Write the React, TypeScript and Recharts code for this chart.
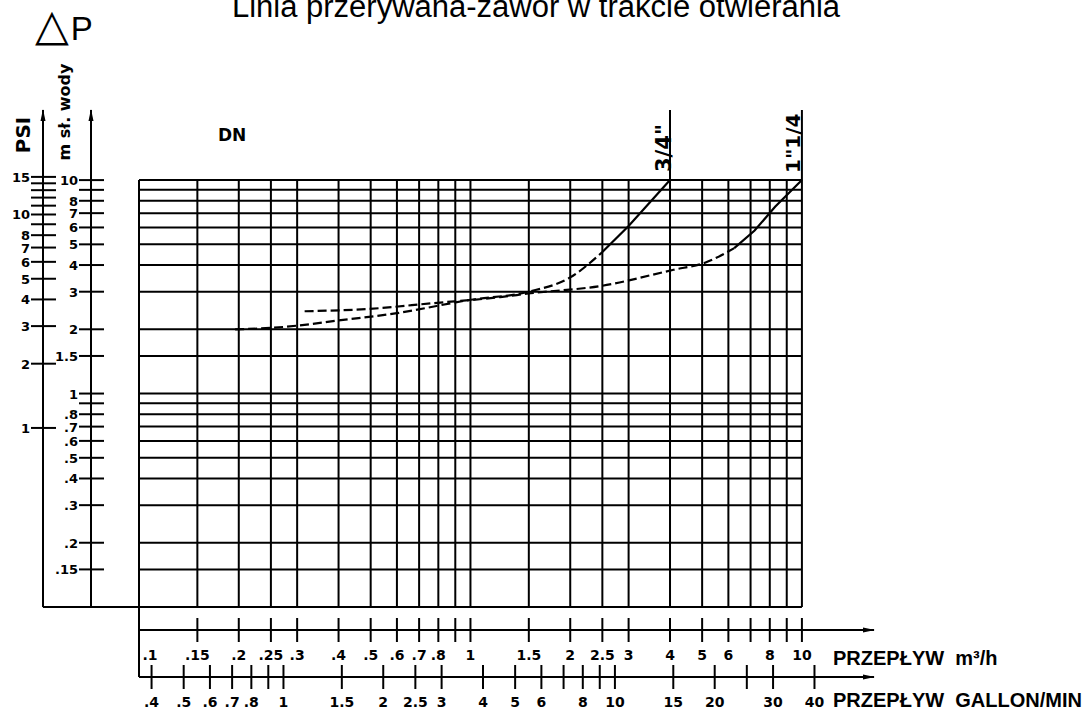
import React from 'react';
import { ComposedChart, Line, XAxis, YAxis, ReferenceLine } from 'recharts';

// ---- axis ticks and labels ----
const flowTicks = [0.1, 0.15, 0.2, 0.25, 0.3, 0.4, 0.5, 0.6, 0.7, 0.8, 0.9, 1, 1.5, 2, 2.5, 3, 4, 5, 6, 7, 8, 9, 10];
const flowLabels = ['.1', '.15', '.2', '.25', '.3', '.4', '.5', '.6', '.7', '.8', '', '1', '1.5', '2', '2.5', '3', '4', '5', '6', '', '8', '', '10'];
const gallonTicks = [0.4, 0.5, 0.6, 0.7, 0.8, 0.9, 1, 1.5, 2, 2.5, 3, 4, 5, 6, 7, 8, 9, 10, 15, 20, 25, 30, 40];
const gallonLabels = ['.4', '.5', '.6', '.7', '.8', '', '1', '1.5', '2', '2.5', '3', '4', '5', '6', '', '8', '', '10', '15', '20', '', '30', '40'];
const headTicks = [10, 9, 8, 7, 6, 5, 4, 3, 2, 1.5, 1, 0.9, 0.8, 0.7, 0.6, 0.5, 0.4, 0.3, 0.2, 0.15];
const headLabels = ['10', '', '8', '7', '6', '5', '4', '3', '2', '1.5', '1', '', '.8', '.7', '.6', '.5', '.4', '.3', '.2', '.15'];
const psiTicks = [15, 14, 13, 12, 11, 10, 9, 8, 7, 6, 5, 4, 3, 2, 1];
const psiLabels = ['15', '', '', '', '', '10', '', '8', '7', '6', '5', '4', '3', '2', '1'];

// grid lines (m3/h verticals, m water horizontals)
const gridFlow = [0.1, 0.15, 0.2, 0.25, 0.3, 0.4, 0.5, 0.6, 0.7, 0.8, 0.9, 1, 1.5, 2, 2.5, 3, 4, 5, 6, 7, 8, 9, 10];
const gridHead = [10, 9, 8, 7, 6, 5, 4, 3, 2, 1.5, 1, 0.9, 0.8, 0.7, 0.6, 0.5, 0.4, 0.3, 0.2, 0.15];

// ---- curves (q in m3/h, m in m of water) ----
const valve34Dashed = [
  { q: 0.195, m: 2.0 }, { q: 0.25, m: 2.03 }, { q: 0.3, m: 2.08 }, { q: 0.4, m: 2.2 },
  { q: 0.6, m: 2.38 }, { q: 1.0, m: 2.75 }, { q: 1.5, m: 3.0 }, { q: 2.0, m: 3.5 }, { q: 2.5, m: 4.6 },
];
const valve34Solid = [{ q: 2.5, m: 4.6 }, { q: 3.0, m: 6.1 }, { q: 4.0, m: 10 }];
const valve114Dashed = [
  { q: 0.316, m: 2.43 }, { q: 0.49, m: 2.49 }, { q: 0.77, m: 2.65 }, { q: 1.23, m: 2.83 },
  { q: 1.52, m: 2.95 }, { q: 2.5, m: 3.2 }, { q: 4.1, m: 3.8 }, { q: 5.1, m: 4.1 }, { q: 6.25, m: 4.8 },
];
const valve114Solid = [{ q: 6.25, m: 4.8 }, { q: 7.2, m: 5.8 }, { q: 8.3, m: 7.5 }, { q: 10, m: 10 }];

// ---- scale ranges / conversions ----
const FLOW_DOMAIN = [0.1, 16.5];
const HEAD_DOMAIN = [0.1, 21.3];
const GPM_TO_M3H = 0.2728;
const PSI_TO_M = 0.69;
const FRAME_LEFT_Q = 0.0513;
const FRAME_BOTTOM_M = 0.047;

// same curve expressed in gallons/min (keeps the gallon axis bound to data)
const valve114Gallons = valve114Dashed.concat(valve114Solid).map((p) => ({ g: p.q / GPM_TO_M3H, m: p.m }));

const STENCIL = '"DejaVu Sans", sans-serif';
const black = '#000';

function makeXTick(ticks: number[], labels: string[], edgeValue: number | null) {
  return (props: any) => {
    const { x, y, payload } = props;
    const i = ticks.indexOf(payload.value);
    const label = i >= 0 ? labels[i] : '';
    const isEdge = edgeValue !== null && payload.value === edgeValue;
    return (
      <g>
        {!isEdge && <line x1={x} x2={x} y1={y - 12} y2={y + 12} stroke={black} strokeWidth={2} />}
        {label && (
          <text x={x + (isEdge ? 11 : 0)} y={y + 30} textAnchor="middle" fontFamily={STENCIL} fontWeight="bold" fontSize={14} fill={black}>
            {label}
          </text>
        )}
      </g>
    );
  };
}

function makeYTick(ticks: number[], labels: string[]) {
  return (props: any) => {
    const { x, y, payload } = props;
    const i = ticks.indexOf(payload.value);
    const label = i >= 0 ? labels[i] : '';
    return (
      <g>
        <line x1={x - 12} x2={x + 13} y1={y} y2={y} stroke={black} strokeWidth={2} />
        {label && (
          <text x={x - 13} y={y + 5} textAnchor="end" fontFamily={STENCIL} fontWeight="bold" fontSize={13} fill={black}>
            {label}
          </text>
        )}
      </g>
    );
  };
}

const flowTick = makeXTick(flowTicks, flowLabels, 0.1);
const gallonTick = makeXTick(gallonTicks, gallonLabels, null);
const headTick = makeYTick(headTicks, headLabels);
const psiTick = makeYTick(psiTicks, psiLabels);

export default function App() {
  const gridProps = { xAxisId: 'b_flow', yAxisId: 'b_head', stroke: black, strokeWidth: 2 };
  return (
    <div style={{ position: 'absolute', left: 0, top: 0, width: 1082, height: 709, background: '#fff', fontFamily: '"Liberation Sans", Arial, sans-serif' }}>
      <ComposedChart width={1082} height={709} margin={{ top: 110, right: 208, left: 0, bottom: 0 }}>
        {/* left axes: gap (closest to plot), m water, PSI */}
        <YAxis yAxisId="a_gap" type="number" scale="log" domain={HEAD_DOMAIN} allowDataOverflow width={48} axisLine={false} tickLine={false} tick={false} />
        <YAxis
          yAxisId="b_head" type="number" scale="log" domain={HEAD_DOMAIN} allowDataOverflow width={48}
          ticks={headTicks} interval={0} tickSize={0} tickMargin={0} tickLine={false} tick={headTick}
          axisLine={{ stroke: black, strokeWidth: 2, markerStart: 'url(#arrowHead)' } as any}
        />
        <YAxis
          yAxisId="c_psi" type="number" scale="log" domain={HEAD_DOMAIN.map((v) => v / PSI_TO_M)} allowDataOverflow width={43}
          ticks={psiTicks} interval={0} tickSize={0} tickMargin={0} tickLine={false} tick={psiTick}
          axisLine={{ stroke: black, strokeWidth: 2, markerStart: 'url(#arrowHead)' } as any}
        />
        {/* bottom axes: gap, m3/h, gallon/min */}
        <XAxis xAxisId="a_gap" type="number" scale="log" domain={FLOW_DOMAIN} allowDataOverflow height={23} axisLine={false} tickLine={false} tick={false} />
        <XAxis
          xAxisId="b_flow" dataKey="q" type="number" scale="log" domain={FLOW_DOMAIN} allowDataOverflow height={47}
          ticks={flowTicks} interval={0} tickSize={0} tickMargin={0} tickLine={false} tick={flowTick}
          axisLine={{ stroke: black, strokeWidth: 2, markerEnd: 'url(#arrowHead)' } as any}
        />
        <XAxis
          xAxisId="c_gal" dataKey="g" type="number" scale="log" domain={FLOW_DOMAIN.map((v) => v / GPM_TO_M3H)} allowDataOverflow height={32}
          ticks={gallonTicks} interval={0} tickSize={0} tickMargin={0} tickLine={false} tick={gallonTick}
          axisLine={{ stroke: black, strokeWidth: 2, markerEnd: 'url(#arrowHead)' } as any}
        />

        {gridHead.map((v) => (
          <ReferenceLine key={'h' + v} {...gridProps} segment={[{ x: flowTicks[0], y: v }, { x: 10, y: v }]} />
        ))}
        {gridFlow.map((v) => (
          <ReferenceLine key={'v' + v} {...gridProps} segment={[{ x: v, y: HEAD_DOMAIN[0] }, { x: v, y: 10 }]} />
        ))}
        {/* frame pieces */}
        <ReferenceLine {...gridProps} ifOverflow="visible" segment={[{ x: FRAME_LEFT_Q, y: HEAD_DOMAIN[0] }, { x: 10, y: HEAD_DOMAIN[0] }]} />
        <ReferenceLine {...gridProps} ifOverflow="visible" segment={[{ x: flowTicks[0], y: FRAME_BOTTOM_M }, { x: flowTicks[0], y: 10 }]} />
        {/* DN lines */}
        <ReferenceLine {...gridProps} segment={[{ x: 4, y: 10 }, { x: 4, y: HEAD_DOMAIN[1] }]} />
        <ReferenceLine {...gridProps} segment={[{ x: 10, y: 10 }, { x: 10, y: HEAD_DOMAIN[1] }]} />

        <Line data={valve114Gallons} dataKey="m" xAxisId="c_gal" yAxisId="b_head" type="monotone" stroke="none" strokeWidth={0} dot={false} activeDot={false} legendType="none" isAnimationActive={false} />
        <Line data={valve34Dashed} dataKey="m" xAxisId="b_flow" yAxisId="b_head" type="monotone" stroke={black} strokeWidth={2.2} strokeDasharray="9 4" dot={false} isAnimationActive={false} />
        <Line data={valve34Solid} dataKey="m" xAxisId="b_flow" yAxisId="b_head" type="linear" stroke={black} strokeWidth={2.2} dot={false} isAnimationActive={false} />
        <Line data={valve114Dashed} dataKey="m" xAxisId="b_flow" yAxisId="b_head" type="monotone" stroke={black} strokeWidth={2.2} strokeDasharray="9 4" dot={false} isAnimationActive={false} />
        <Line data={valve114Solid} dataKey="m" xAxisId="b_flow" yAxisId="b_head" type="linear" stroke={black} strokeWidth={2.2} dot={false} isAnimationActive={false} />
      </ComposedChart>

      <svg width={1082} height={709} style={{ position: 'absolute', left: 0, top: 0, pointerEvents: 'none' }}>
        <defs>
          <marker id="arrowHead" viewBox="0 0 12 6" refX={11} refY={3} markerWidth={12} markerHeight={6} markerUnits="userSpaceOnUse" orient="auto-start-reverse">
            <path d="M0,0.5 L12,3 L0,5.5 Z" fill={black} />
          </marker>
        </defs>
        <text x={536} y={17} textAnchor="middle" fontFamily='"Liberation Sans", Arial, sans-serif' fontSize={31} fill={black}>
          Linia przerywana-zawór w trakcie otwierania
        </text>
        <text x={35} y={40} fill={black} fontFamily='"Liberation Sans", Arial, sans-serif'>
          <tspan fontSize={44} fontFamily='"DejaVu Sans", sans-serif'>△</tspan>
          <tspan fontSize={33} dx={2}>P</tspan>
        </text>
        <text x={30} y={135} transform="rotate(-90 30 135)" textAnchor="middle" fontFamily={STENCIL} fontWeight="bold" fontSize={20} fill={black}>
          PSI
        </text>
        <text x={70} y={112} transform="rotate(-90 70 112)" textAnchor="middle" fontFamily={STENCIL} fontWeight="bold" fontSize={16} fill={black}>
          m sł. wody
        </text>
        <text x={218} y={141} fontFamily={STENCIL} fontWeight="bold" fontSize={17} fill={black}>
          DN
        </text>
        <text x={671} y={172} transform="rotate(-90 671 172)" fontFamily={STENCIL} fontWeight="bold" fontSize={21} fill={black}>
          3/4"
        </text>
        <text x={800} y={173} transform="rotate(-90 800 173)" fontFamily={STENCIL} fontWeight="bold" fontSize={20} fill={black}>
          1"1/4
        </text>
        <text x={833} y={665} fontFamily='"Liberation Sans", Arial, sans-serif' fontWeight="bold" fontSize={20} fill={black} style={{ whiteSpace: 'pre' }}>
          {'PRZEPŁYW  m³/h'}
        </text>
        <text x={833} y={707} fontFamily='"Liberation Sans", Arial, sans-serif' fontWeight="bold" fontSize={20} fill={black} style={{ whiteSpace: 'pre' }}>
          {'PRZEPŁYW  GALLON/MIN'}
        </text>
      </svg>
    </div>
  );
}
